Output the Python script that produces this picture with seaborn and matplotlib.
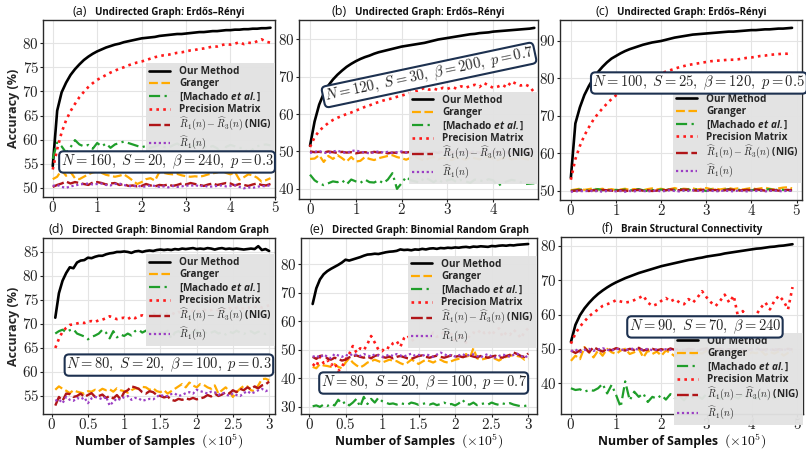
import numpy as np
import matplotlib
matplotlib.use("Agg")
import matplotlib.pyplot as plt
import seaborn as sns
from matplotlib.offsetbox import TextArea, HPacker, AnchoredOffsetbox
from matplotlib.ticker import FuncFormatter, MultipleLocator

# ---------------- data ----------------
X5 = [round(0.1 * i, 1) for i in range(50)]          # 0 .. 4.9  (x 1e5 samples)
X3 = [round(0.05 * i, 2) for i in range(1, 61)]      # 0.05 .. 3.0

A_OUR = [54.5, 66.0, 69.8, 71.8, 73.4, 74.6, 75.6, 76.5, 77.2, 77.8,
         78.3, 78.7, 79.1, 79.4, 79.7, 79.9, 80.2, 80.4, 80.6, 80.8,
         81.0, 81.1, 81.2, 81.3, 81.5, 81.6, 81.7, 81.8, 81.9, 81.9,
         82.0, 82.1, 82.2, 82.3, 82.3, 82.4, 82.5, 82.5, 82.6, 82.7,
         82.7, 82.8, 82.8, 82.9, 82.9, 83.0, 83.0, 83.1, 83.1, 83.2]
A_GRAN = [51.8, 52.3, 53.7, 52.5, 53.3, 52.0, 51.8, 52.3, 52.8, 53.2,
          53.4, 53.1, 52.7, 52.5, 52.3, 52.5, 52.8, 52.2, 51.5, 50.8,
          51.2, 51.8, 52.0, 51.5, 53.3, 53.1, 52.9, 52.8, 52.9, 52.6,
          52.4, 52.3, 52.4, 52.3, 52.5, 52.8, 53.0, 53.2, 53.6, 53.1,
          52.8, 53.3, 51.7, 52.2, 52.8, 52.6, 52.1, 51.3, 51.6, 52.0]
A_MACH = [56.0, 59.4, 58.6, 57.3, 58.4, 59.9, 59.0, 58.6, 58.9, 58.1,
          59.3, 58.6, 59.2, 58.3, 59.0, 59.3, 59.6, 59.3, 59.0, 58.7,
          58.4, 58.7, 58.3, 58.6, 58.9, 58.5, 58.3, 58.8, 59.2, 58.6,
          58.8, 58.4, 58.9, 59.1, 58.6, 58.3, 58.7, 58.2, 57.0, 58.5,
          58.9, 58.6, 58.3, 58.2, 57.2, 58.0, 58.6, 58.9, 59.0, 58.8]
A_PREC = [53.8, 58.0, 61.5, 64.0, 65.9, 67.4, 68.8, 69.9, 70.9, 71.7,
          72.4, 72.9, 73.4, 73.9, 74.3, 74.7, 75.0, 75.4, 75.7, 76.0,
          76.2, 76.5, 76.8, 77.1, 77.3, 77.5, 77.6, 77.8, 78.0, 78.1,
          78.3, 78.5, 78.6, 78.8, 78.9, 79.1, 79.3, 79.3, 79.6, 79.8,
          79.7, 79.9, 80.2, 79.8, 80.1, 80.0, 80.4, 80.8, 80.3, 80.1]
A_NIG = [50.2, 50.6, 50.9, 51.3, 50.9, 51.2, 51.0, 50.8, 50.6, 51.1,
         51.2, 51.0, 50.7, 50.9, 51.0, 50.6, 50.8, 50.4, 50.5, 50.3,
         50.4, 50.8, 50.5, 50.3, 50.6, 50.5, 50.7, 50.4, 50.6, 50.9,
         50.7, 51.0, 50.8, 50.6, 50.4, 50.7, 50.9, 50.6, 50.8, 51.0,
         50.9, 50.5, 50.8, 50.6, 50.4, 50.7, 50.9, 50.6, 50.5, 50.8]
A_R1 = [50.4, 50.6, 50.2, 50.0, 50.3, 50.5, 50.7, 50.8, 50.9, 50.7,
        50.8, 50.9, 50.6, 50.5, 50.8, 50.9, 50.6, 50.4, 50.3, 50.5,
        50.2, 50.3, 50.5, 50.4, 50.2, 50.3, 50.1, 50.4, 50.2, 50.3,
        50.5, 50.4, 50.6, 50.3, 50.5, 50.2, 50.3, 50.4, 50.5, 50.3,
        50.4, 50.6, 50.2, 49.9, 50.1, 50.0, 50.2, 50.4, 50.3, 50.6]

B_OUR = [51.5, 58.0, 62.5, 65.5, 67.6, 69.2, 70.5, 71.6, 72.6, 73.4,
         74.1, 74.7, 75.2, 75.6, 76.1, 76.5, 76.8, 77.1, 77.4, 77.7,
         78.0, 78.2, 78.4, 78.6, 78.8, 79.0, 79.3, 79.6, 79.9, 80.1,
         80.3, 80.5, 80.7, 80.9, 81.1, 81.3, 81.4, 81.6, 81.7, 81.8,
         82.0, 82.1, 82.2, 82.3, 82.4, 82.5, 82.6, 82.7, 82.8, 83.0]
B_GRAN = [48.0, 48.1, 49.0, 47.2, 48.8, 48.0, 49.0, 48.2, 47.3, 48.5,
          47.3, 47.5, 48.5, 48.0, 47.7, 48.2, 48.5, 48.8, 49.0, 48.5,
          48.2, 47.8, 48.3, 48.6, 48.0, 47.6, 48.2, 48.5, 47.9, 48.3,
          48.0, 47.7, 48.4, 48.1, 47.8, 48.5, 48.2, 47.9, 48.3, 48.6,
          48.0, 47.7, 48.2, 48.4, 47.9, 48.1, 48.5, 48.0, 47.8, 48.2]
B_MACH = [43.8, 42.3, 41.5, 41.0, 41.5, 42.0, 41.8, 42.3, 41.2, 42.5,
          42.0, 41.6, 42.5, 41.8, 41.7, 42.3, 41.5, 42.5, 44.2, 40.0,
          41.5, 43.2, 42.3, 42.0, 41.7, 43.0, 42.5, 41.8, 42.6, 41.7,
          42.3, 42.6, 41.8, 42.4, 42.0, 41.6, 42.5, 42.3, 42.0, 42.6,
          42.3, 40.8, 41.5, 42.0, 42.4, 42.2, 41.8, 41.3, 41.4, 41.5]
B_PREC = [51.2, 53.8, 55.5, 56.6, 57.6, 58.4, 59.0, 59.5, 60.0, 60.4,
          60.9, 61.4, 61.9, 62.3, 62.8, 63.2, 63.6, 63.9, 64.2, 64.6,
          64.9, 65.3, 65.6, 66.0, 66.4, 67.0, 66.5, 66.8, 66.4, 67.0,
          66.7, 67.2, 66.8, 67.4, 67.0, 67.5, 67.8, 67.2, 68.3, 67.6,
          67.0, 67.3, 67.8, 67.1, 68.7, 68.1, 67.6, 67.9, 67.3, 65.7]
B_NIG = [50.0, 49.8, 49.9, 49.7, 50.0, 49.8, 49.6, 49.9, 49.7, 49.8,
         49.5, 49.7, 49.8, 49.6, 49.9, 49.7, 49.8, 49.5, 49.7, 49.6,
         49.8, 49.7, 49.9, 49.6, 49.8, 49.7, 49.5, 49.8, 49.6, 49.9,
         49.7, 49.8, 49.6, 49.7, 49.9, 49.6, 49.8, 49.7, 49.5, 49.8,
         49.7, 49.9, 49.6, 49.8, 49.7, 49.6, 49.8, 49.7, 49.9, 49.6]
B_R1 = [49.6, 49.9, 50.1, 49.7, 49.5, 50.0, 50.2, 49.8, 49.6, 50.1,
        50.3, 49.9, 49.7, 49.5, 49.8, 50.0, 49.7, 49.9, 49.6, 49.8,
        50.0, 49.7, 49.5, 49.9, 50.1, 49.8, 49.6, 49.9, 50.0, 49.7,
        49.8, 50.1, 49.6, 49.9, 49.7, 50.0, 49.8, 49.5, 49.9, 50.1,
        49.7, 49.8, 50.0, 49.6, 49.9, 49.7, 50.1, 49.8, 49.6, 49.9]

C_OUR = [53.5, 68.0, 72.3, 75.6, 78.0, 80.0, 81.7, 83.1, 84.3, 85.3,
         86.0, 86.7, 87.3, 87.8, 88.2, 88.6, 89.0, 89.3, 89.6, 89.8,
         90.0, 90.3, 90.6, 90.9, 91.1, 91.3, 91.5, 91.7, 91.8, 91.9,
         92.0, 92.1, 92.2, 92.3, 92.4, 92.5, 92.5, 92.6, 92.7, 92.8,
         92.9, 92.9, 93.0, 93.1, 93.1, 93.2, 93.3, 93.3, 93.4, 93.5]
C_GRAN = [50.2, 50.4, 50.6, 50.3, 50.5, 50.7, 50.4, 50.6, 50.3, 50.5,
          50.2, 50.4, 50.6, 50.3, 50.5, 50.4, 50.2, 50.5, 50.7, 50.4,
          50.6, 50.3, 50.5, 50.8, 50.4, 50.6, 50.5, 50.7, 50.4, 50.6,
          50.8, 50.5, 50.7, 50.4, 50.6, 50.8, 50.5, 50.7, 50.4, 50.6,
          50.8, 50.5, 50.7, 50.9, 50.6, 50.4, 50.7, 50.9, 51.0, 50.7]
C_MACH = [50.0, 50.2, 50.4, 50.3, 50.1, 50.3, 50.5, 50.2, 50.4, 50.1,
          50.3, 50.2, 50.4, 50.1, 50.3, 50.5, 50.2, 50.0, 50.3, 50.1,
          50.4, 50.2, 50.5, 50.3, 50.6, 50.2, 50.4, 50.1, 50.5, 50.3,
          50.0, 50.4, 50.2, 49.9, 50.3, 50.5, 50.2, 50.4, 50.1, 50.3,
          50.2, 50.4, 50.1, 50.3, 50.5, 50.2, 50.4, 50.3, 50.1, 50.3]
C_PREC = [53.0, 58.5, 62.0, 64.8, 67.0, 69.0, 70.6, 72.0, 73.3, 74.5,
          75.5, 76.3, 77.1, 77.8, 78.4, 79.0, 79.5, 80.0, 80.5, 81.0,
          81.4, 81.8, 82.2, 82.6, 83.0, 83.3, 83.6, 83.8, 84.0, 84.2,
          84.4, 84.6, 84.7, 84.8, 84.9, 85.0, 85.0, 85.1, 85.3, 85.5,
          85.6, 85.8, 86.0, 86.1, 86.3, 86.4, 86.5, 86.6, 86.6, 86.7]
C_NIG = [50.0, 50.1, 50.2, 50.1, 50.0, 50.2, 50.1, 50.3, 50.2, 50.1,
         50.0, 50.2, 50.1, 50.0, 50.2, 50.3, 50.1, 50.2, 50.0, 50.1,
         50.3, 50.2, 50.4, 50.3, 50.2, 50.4, 50.3, 50.2, 50.1, 50.3,
         50.4, 50.2, 50.3, 50.1, 50.2, 50.4, 50.3, 50.1, 50.2, 50.3,
         50.2, 50.4, 50.3, 50.1, 50.2, 50.3, 50.1, 50.2, 50.3, 50.2]
C_R1 = [49.8, 49.9, 50.0, 49.9, 50.1, 49.9, 50.0, 49.8, 50.0, 50.1,
        49.9, 50.0, 49.8, 50.0, 49.9, 50.1, 50.0, 49.9, 50.0, 50.1,
        49.9, 50.0, 50.2, 50.0, 49.9, 50.1, 50.0, 50.2, 50.1, 49.9,
        50.0, 50.1, 49.9, 50.0, 50.1, 50.0, 49.9, 50.1, 50.0, 49.9,
        50.1, 50.0, 50.1, 49.9, 50.0, 50.1, 50.0, 49.9, 50.1, 50.0]

D_OUR = [71.3, 76.4, 79.0, 80.6, 81.8, 81.6, 82.8, 83.2, 83.3, 83.8,
         83.7, 84.0, 84.2, 84.2, 84.5, 84.7, 84.8, 85.0, 85.0, 85.1,
         85.0, 84.8, 85.1, 85.2, 85.0, 85.2, 85.3, 85.2, 85.4, 85.5,
         85.4, 85.5, 85.4, 85.6, 85.5, 85.7, 85.6, 85.7, 85.8, 85.6,
         85.7, 85.6, 85.8, 85.7, 85.5, 85.7, 85.8, 85.6, 85.7, 85.6,
         85.7, 85.6, 85.5, 85.6, 85.7, 85.6, 86.2, 85.4, 85.6, 85.2]
D_GRAN = [56.3, 57.0, 56.5, 56.1, 55.6, 56.2, 55.9, 55.7, 55.5, 56.0,
          55.9, 56.3, 56.0, 56.5, 56.2, 56.4, 55.9, 56.6, 56.2, 56.0,
          55.7, 56.2, 56.6, 56.5, 56.9, 56.8, 56.3, 56.6, 56.0, 55.8,
          56.2, 55.5, 56.0, 56.5, 57.0, 57.5, 56.8, 57.8, 57.2, 56.8,
          57.5, 57.3, 56.8, 56.5, 57.2, 55.5, 56.2, 56.8, 56.0, 54.8,
          55.8, 56.5, 57.1, 57.0, 56.2, 56.0, 57.2, 58.5, 58.6, 58.3]
D_MACH = [68.0, 68.5, 68.8, 68.3, 68.7, 68.9, 68.0, 67.7, 67.4, 66.8,
          67.3, 67.6, 68.0, 68.8, 68.2, 67.0, 68.5, 67.2, 67.8, 67.5,
          68.0, 67.6, 68.5, 68.8, 68.2, 68.6, 68.0, 68.4, 67.9, 68.3,
          68.1, 68.6, 67.0, 68.2, 68.5, 68.0, 68.4, 67.8, 68.3, 68.6,
          68.1, 68.4, 67.9, 68.2, 68.5, 68.0, 68.3, 67.8, 68.4, 68.1,
          68.6, 68.2, 67.9, 68.3, 68.5, 68.0, 68.4, 68.2, 67.9, 68.3]
D_PREC = [65.0, 66.9, 68.4, 69.2, 69.8, 69.9, 70.1, 70.3, 70.2, 70.5,
          70.6, 70.4, 70.8, 70.9, 71.2, 71.6, 71.3, 71.0, 71.2, 71.3,
          71.0, 71.5, 71.2, 71.6, 71.8, 71.5, 71.9, 72.2, 71.8, 72.0,
          72.3, 72.1, 72.4, 72.0, 72.5, 72.3, 72.6, 72.4, 72.8, 72.5,
          72.7, 73.0, 72.6, 72.9, 73.1, 72.8, 73.2, 72.9, 73.3, 73.0,
          73.4, 73.1, 73.3, 73.6, 73.2, 73.5, 73.8, 73.4, 73.6, 73.9]
D_NIG = [53.0, 54.8, 54.0, 55.5, 55.4, 54.8, 55.0, 55.5, 54.8, 55.2,
         55.6, 54.8, 55.0, 55.3, 54.6, 55.0, 54.5, 55.2, 54.3, 55.8,
         56.2, 57.0, 56.8, 56.5, 55.8, 55.5, 56.0, 55.8, 55.2, 55.0,
         54.7, 54.9, 54.2, 54.0, 54.4, 54.2, 54.5, 54.3, 54.6, 54.3,
         54.5, 54.7, 55.2, 54.9, 55.5, 55.0, 55.3, 55.8, 55.5, 56.2,
         55.8, 56.5, 56.2, 56.8, 56.4, 57.0, 56.6, 57.2, 57.4, 58.0]
D_R1 = [54.0, 54.3, 53.5, 54.8, 54.2, 54.0, 54.6, 54.3, 54.7, 53.5,
        54.5, 54.8, 54.6, 54.3, 54.9, 53.0, 53.8, 54.5, 54.2, 54.8,
        55.0, 54.2, 54.6, 54.5, 54.0, 54.2, 54.4, 54.3, 54.8, 55.3,
        54.9, 55.0, 55.4, 55.5, 55.0, 55.2, 55.6, 55.8, 55.5, 56.3,
        56.0, 55.8, 55.5, 55.9, 55.8, 55.2, 55.7, 55.4, 55.0, 55.5,
        55.2, 55.0, 55.6, 56.0, 55.5, 55.8, 56.2, 56.5, 56.0, 56.3]

E_OUR = [66.0, 71.5, 74.6, 76.4, 77.5, 78.3, 79.0, 79.7, 80.5, 81.5,
         81.2, 81.6, 82.0, 82.4, 82.9, 83.3, 83.4, 83.6, 83.5, 83.8,
         84.1, 84.3, 84.4, 84.6, 85.1, 84.9, 85.0, 84.8, 85.1, 85.0,
         85.3, 85.1, 85.4, 85.5, 85.3, 85.6, 85.5, 85.7, 85.6, 85.8,
         85.7, 85.9, 86.0, 85.8, 86.1, 86.0, 86.2, 86.1, 86.0, 86.3,
         86.2, 86.4, 86.5, 86.4, 86.6, 86.5, 86.7, 86.8, 86.9, 87.0]
E_GRAN = [44.0, 43.5, 45.0, 44.5, 44.3, 44.0, 45.0, 44.0, 43.5, 45.5,
          47.0, 45.5, 44.5, 43.8, 44.5, 45.5, 46.0, 46.5, 46.0, 45.5,
          46.0, 46.5, 46.2, 46.0, 45.3, 44.8, 45.5, 46.5, 46.0, 45.0,
          45.8, 46.5, 46.0, 45.5, 46.2, 46.5, 45.8, 45.5, 46.0, 46.5,
          46.8, 47.0, 48.5, 47.0, 50.5, 47.0, 46.5, 46.8, 47.2, 47.5,
          46.8, 46.2, 47.0, 47.5, 47.8, 48.2, 47.8, 47.5, 46.5, 47.0]
E_MACH = [30.2, 30.5, 30.0, 30.8, 30.3, 31.0, 30.5, 32.5, 31.0, 31.8,
          30.5, 31.5, 32.8, 30.0, 33.5, 31.0, 32.8, 31.5, 33.2, 32.0,
          31.5, 31.0, 31.2, 30.8, 31.3, 31.0, 30.8, 31.5, 31.2, 30.7,
          31.0, 31.3, 30.8, 31.2, 30.6, 31.0, 31.5, 30.8, 31.0, 30.5,
          31.2, 32.5, 31.0, 30.8, 31.5, 30.6, 31.0, 31.2, 30.8, 31.5,
          31.0, 30.7, 31.2, 30.9, 31.3, 30.8, 30.5, 30.2, 30.3, 30.6]
E_PREC = [45.0, 44.0, 47.5, 45.3, 46.5, 44.5, 45.5, 42.5, 44.0, 46.5,
          48.5, 51.3, 49.0, 50.5, 49.8, 52.0, 54.8, 52.5, 50.0, 49.5,
          51.0, 50.5, 52.3, 53.0, 51.0, 54.0, 55.0, 53.0, 54.0, 55.5,
          54.5, 55.0, 54.0, 56.0, 54.5, 55.0, 56.5, 54.5, 55.5, 52.5,
          55.0, 54.3, 52.5, 55.2, 56.0, 55.5, 57.0, 55.8, 56.5, 55.0,
          56.8, 57.5, 54.5, 56.0, 55.2, 57.0, 55.8, 54.0, 56.2, 57.5]
E_NIG = [47.5, 46.8, 47.8, 48.0, 47.0, 46.5, 47.2, 46.8, 46.2, 46.5,
         47.3, 47.8, 48.0, 47.5, 47.2, 47.6, 47.0, 47.8, 48.2, 47.5,
         47.2, 47.6, 47.0, 47.5, 47.8, 47.4, 47.0, 46.8, 47.3, 47.8,
         48.0, 47.5, 47.2, 47.6, 47.9, 47.5, 47.2, 47.6, 48.0, 47.5,
         47.8, 47.4, 47.7, 48.0, 47.6, 47.3, 47.8, 47.5, 47.2, 47.6,
         47.9, 47.4, 47.2, 47.8, 48.2, 49.0, 48.5, 47.8, 47.5, 48.7]
E_R1 = [47.5, 48.0, 47.2, 48.3, 47.6, 47.0, 48.5, 48.0, 47.5, 48.2,
        47.8, 48.6, 48.2, 47.8, 48.5, 48.0, 47.6, 48.4, 48.0, 47.5,
        47.8, 48.3, 47.8, 48.5, 48.0, 47.6, 48.2, 48.6, 47.9, 48.2,
        47.8, 48.4, 48.0, 47.5, 48.3, 49.0, 48.5, 47.8, 48.2, 47.6,
        48.0, 48.5, 47.8, 48.2, 48.4, 47.8, 47.3, 48.0, 48.5, 47.6,
        47.2, 47.8, 48.3, 48.0, 47.5, 48.2, 48.6, 47.8, 47.2, 48.0]

F_OUR = [52.0, 57.0, 59.8, 61.8, 63.4, 64.8, 66.0, 67.0, 67.9, 68.7,
         69.4, 70.0, 70.6, 71.1, 71.6, 72.1, 72.5, 72.9, 73.3, 73.7,
         74.1, 74.4, 74.7, 75.0, 75.3, 75.6, 75.9, 76.1, 76.4, 76.6,
         76.9, 77.1, 77.3, 77.5, 77.8, 78.0, 78.2, 78.4, 78.6, 78.8,
         79.0, 79.2, 79.3, 79.5, 79.7, 79.8, 80.0, 80.1, 80.3, 80.5]
F_GRAN = [46.5, 48.0, 47.0, 50.5, 49.0, 47.5, 49.5, 48.0, 50.0, 49.0,
          48.5, 49.5, 50.0, 48.5, 49.0, 50.0, 47.5, 49.5, 48.5, 49.2,
          48.0, 49.5, 48.8, 47.8, 49.3, 48.5, 49.8, 48.2, 49.0, 48.6,
          49.5, 48.0, 49.2, 48.7, 49.6, 48.3, 49.0, 48.5, 49.4, 48.1,
          49.0, 48.7, 49.5, 48.2, 49.1, 48.6, 49.3, 48.0, 48.8, 49.2]
F_MACH = [38.5, 38.0, 38.2, 37.5, 38.0, 37.8, 38.5, 39.8, 37.0, 39.5,
          36.5, 33.0, 40.5, 35.0, 37.5, 36.0, 37.0, 34.5, 36.0, 35.5,
          36.5, 35.2, 36.8, 35.6, 36.2, 35.0, 36.6, 35.8, 36.3, 35.4,
          36.9, 35.7, 36.1, 35.3, 36.5, 35.9, 36.2, 35.5, 36.7, 35.8,
          36.0, 35.4, 36.4, 35.9, 36.1, 35.6, 36.3, 35.8, 36.0, 35.7]
F_PREC = [51.5, 54.5, 56.5, 58.0, 59.5, 60.5, 61.5, 62.5, 63.0, 63.5,
          64.2, 63.8, 63.5, 63.7, 64.2, 64.8, 65.5, 63.5, 62.5, 63.0,
          64.0, 64.8, 63.8, 64.5, 63.5, 63.0, 64.5, 63.5, 65.0, 66.8,
          65.0, 63.5, 62.5, 64.0, 65.8, 63.5, 65.5, 59.0, 61.0, 59.0,
          57.5, 60.0, 62.0, 63.5, 61.5, 64.0, 65.5, 64.0, 61.5, 68.0]
F_NIG = [49.5, 48.8, 49.5, 50.3, 49.0, 50.5, 49.8, 49.2, 50.0, 49.6,
         50.2, 49.8, 49.5, 50.0, 49.7, 50.3, 49.5, 49.8, 50.0, 49.6,
         49.9, 49.5, 50.1, 49.7, 49.9, 49.6, 50.0, 49.8, 49.5, 49.9,
         50.1, 49.7, 49.8, 50.0, 49.6, 49.9, 49.7, 50.0, 49.8, 49.5,
         49.9, 50.1, 49.7, 49.8, 50.0, 49.6, 49.9, 49.7, 50.0, 49.8]
F_R1 = [49.3, 49.8, 49.0, 49.6, 50.0, 49.4, 49.8, 50.2, 49.7, 49.5,
        50.0, 49.8, 49.6, 49.9, 50.1, 49.7, 49.8, 50.0, 49.6, 49.8,
        49.5, 49.9, 49.7, 50.0, 49.6, 49.8, 49.5, 49.9, 49.7, 49.6,
        49.9, 49.8, 49.5, 49.7, 50.0, 49.6, 49.8, 49.5, 49.9, 49.7,
        49.6, 49.9, 49.8, 49.5, 49.7, 50.0, 49.6, 49.8, 49.7, 49.9]

METHODS = ["Our Method", "Granger", "[Machado $\\mathsf{et\\ al.}$]",
           "Precision Matrix", "$\\widehat{R}_1(n) - \\widehat{R}_3(n)$ (NIG)",
           "$\\widehat{R}_1(n)$"]

TITLES = ["Undirected Graph: Erd\u0151s\u2013R\u00e9nyi"] * 3 + \
         ["Directed Graph: Binomial Random Graph"] * 2 + ["Brain Structural Connectivity"]
LETTERS = ["(a)", "(b)", "(c)", "(d)", "(e)", "(f)"]
BOX_TEXT = [r"$N=160,\ S=20,\ \beta=240,\ p=0.3$",
            r"$N=120,\ S=30,\ \beta=200,\ p=0.7$",
            r"$N=100,\ S=25,\ \beta=120,\ p=0.5$",
            r"$N=80,\ S=20,\ \beta=100,\ p=0.3$",
            r"$N=80,\ S=20,\ \beta=100,\ p=0.7$",
            r"$N=90,\ S=70,\ \beta=240$"]
XLABEL = "Number of Samples"
XLABEL_MATH = "$(\\times10^5)$"
YLABEL = "Accuracy (%)"

# ---------------- style ----------------
SANS = ["Open Sans", "DejaVu Sans"]
sns.set_theme(style="whitegrid")
plt.rcParams["font.family"] = SANS
plt.rcParams.update({
    "mathtext.fontset": "custom",
    "mathtext.rm": "cmr10",
    "mathtext.it": "cmmi10",
    "mathtext.bf": "cmb10",
    "mathtext.tt": "cmtt10",
    "mathtext.cal": "cmsy10",
    "mathtext.sf": "Open Sans:italic:bold",
    "mathtext.fallback": "cm",
    "axes.edgecolor": "#2a2a2a",
    "axes.linewidth": 1.0,
    "grid.color": "#e4e4e4",
    "grid.linewidth": 0.8,
    "xtick.bottom": True,
    "ytick.left": True,
    "xtick.major.size": 2,
    "ytick.major.size": 2,
    "xtick.major.width": 0.8,
    "ytick.major.width": 0.8,
    "xtick.color": "#222222",
    "ytick.color": "#222222",
    "axes.unicode_minus": False,
})

STYLES = [
    dict(color="black", linestyle="-", linewidth=1.9),
    dict(color="#FFAA00", linestyle=(0, (4, 1.6)), linewidth=1.6),
    dict(color="#1f9e2a", linestyle=(0, (5, 2, 1, 2)), linewidth=1.6),
    dict(color="#ff1a1a", linestyle=(0, (1, 1.6)), linewidth=1.9),
    dict(color="#b01518", linestyle=(0, (5, 1.5)), linewidth=1.7),
    dict(color="#9b3fc4", linestyle=(0, (1, 1.2)), linewidth=1.6),
]

PANELS = [
    dict(pos=[0.0533, 0.5651, 0.2878, 0.3907], x=X5,
         ys=[A_OUR, A_GRAN, A_MACH, A_PREC, A_NIG, A_R1],
         xlim=(-0.22, 5.0), ylim=(48.1, 84.8), xstep=1, ystep=5,
         box=(0.535, 0.198, 0), leg=0.757, ylab=True, xlab=None),
    dict(pos=[0.3710, 0.5607, 0.2965, 0.3951], x=X5,
         ys=[B_OUR, B_GRAN, B_MACH, B_PREC, B_NIG, B_R1],
         xlim=(-0.24, 4.98), ylim=(37.3, 85.1), xstep=1, ystep=10,
         box=(0.544, 0.693, 12), leg=0.598, ylab=False, xlab=None),
    dict(pos=[0.6948, 0.5585, 0.3002, 0.3974], x=X5,
         ys=[C_OUR, C_GRAN, C_MACH, C_PREC, C_NIG, C_R1],
         xlim=(-0.24, 5.12), ylim=(47.6, 95.6), xstep=1, ystep=10,
         box=(0.574, 0.65, 0), leg=0.606, ylab=False, xlab=None),
    dict(pos=[0.0533, 0.0861, 0.2878, 0.3885], x=X3,
         ys=[D_OUR, D_GRAN, D_MACH, D_PREC, D_NIG, D_R1],
         xlim=(-0.12, 3.08), ylim=(51.25, 87.9), xstep=0.5, ystep=5,
         box=(0.543, 0.278, 0), leg=0.909, ylab=True, xlab=-0.158),
    dict(pos=[0.3734, 0.0861, 0.2928, 0.3885], x=X3,
         ys=[E_OUR, E_GRAN, E_MACH, E_PREC, E_NIG, E_R1],
         xlim=(-0.11, 3.12), ylim=(27.5, 89.1), xstep=0.5, ystep=10,
         box=(0.52, 0.176, 0), leg=0.898, ylab=False, xlab=-0.158),
    dict(pos=[0.6960, 0.0861, 0.3002, 0.3907], x=X5,
         ys=[F_OUR, F_GRAN, F_MACH, F_PREC, F_NIG, F_R1],
         xlim=(-0.22, 5.13), ylim=(31.0, 82.6), xstep=1, ystep=10,
         box=(0.595, 0.492, 0), leg=0.458, ylab=False, xlab=-0.157),
]

fig = plt.figure(figsize=(8.06, 4.53), dpi=100)
fmt = FuncFormatter(lambda v, p: "$%g$" % round(v, 2))

for i, P in enumerate(PANELS):
    ax = fig.add_axes(P["pos"])
    for lab, yv, st in zip(METHODS, P["ys"], STYLES):
        sns.lineplot(x=P["x"], y=yv, ax=ax, label=lab, errorbar=None, sort=False, **st)
    ax.set_xlim(*P["xlim"])
    ax.set_ylim(*P["ylim"])
    ax.xaxis.set_major_locator(MultipleLocator(P["xstep"]))
    ax.yaxis.set_major_locator(MultipleLocator(P["ystep"]))
    ax.xaxis.set_major_formatter(fmt)
    ax.yaxis.set_major_formatter(fmt)
    ax.tick_params(labelsize=10.8, pad=1.0)
    for s in ax.spines.values():
        s.set_visible(True)
        s.set_color("#2a2a2a")
    ax.set_xlabel("")
    if P["ylab"]:
        ax.set_ylabel(YLABEL, fontsize=9, fontweight="bold", labelpad=2)
    else:
        ax.set_ylabel("")
    if P["xlab"] is not None:
        xl = HPacker(children=[
            TextArea(XLABEL, textprops=dict(fontsize=8.8, fontweight="bold", color="#111111")),
            TextArea(XLABEL_MATH, textprops=dict(fontsize=10, color="#111111"))],
            align="center", pad=0, sep=4)
        ax.add_artist(AnchoredOffsetbox(loc="center", child=xl, pad=0.0, borderpad=0,
                                        frameon=False, bbox_to_anchor=(0.5, P["xlab"]),
                                        bbox_transform=ax.transAxes))
    leg = ax.legend(loc="upper right", bbox_to_anchor=(1.0, P["leg"]),
                    borderaxespad=0, frameon=True, fancybox=False,
                    facecolor="#e2e2e2", edgecolor="none", framealpha=0.96,
                    prop=dict(weight="bold", size=7.2), handlelength=2.1,
                    handletextpad=0.9, labelspacing=0.12, borderpad=0.3)
    leg.set_zorder(5)
    bx, by, rot = P["box"]
    ax.text(bx, by, BOX_TEXT[i], transform=ax.transAxes, ha="center", va="center",
            fontsize=10.5, rotation=rot, rotation_mode="anchor", zorder=6,
            bbox=dict(boxstyle="round,pad=0.1,rounding_size=0.3", fc="white",
                      ec="#1d3150", lw=1.5))
    t1 = TextArea(LETTERS[i], textprops=dict(fontsize=9, color="#111111"))
    t2 = TextArea(TITLES[i], textprops=dict(fontsize=7.0, fontweight="bold", color="#111111"))
    pack = HPacker(children=[t1, t2], align="baseline", pad=0, sep=6)
    ab = AnchoredOffsetbox(loc="lower center", child=pack, pad=0.0, borderpad=0.15,
                           frameon=False, bbox_to_anchor=(0.5, 1.0),
                           bbox_transform=ax.transAxes)
    ax.add_artist(ab)

fig.savefig("out.png", dpi=100, facecolor="white")
